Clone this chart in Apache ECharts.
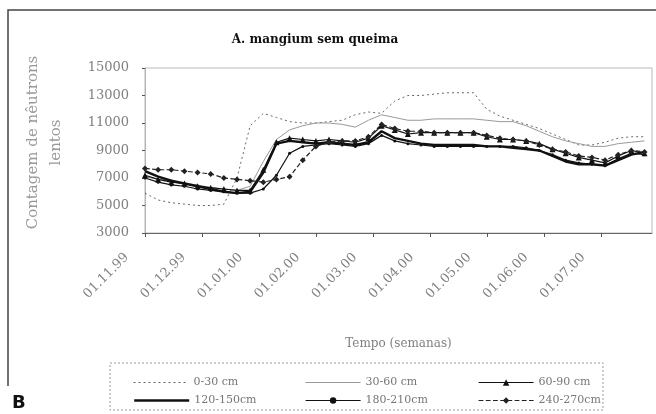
<!DOCTYPE html>
<html>
<head>
<meta charset="utf-8">
<script src="https://cdn.jsdelivr.net/npm/echarts@6/dist/echarts.min.js"></script>
<style>
  html, body { margin: 0; padding: 0; background: #fff; }
  #chart { width: 656px; height: 414px; }
</style>
</head>
<body>
<div id="chart"></div>
<script>
// days since 01.11.99 of each weekly reading
const days = [0, 7, 14, 21, 28, 35, 42, 49, 56, 63, 70, 77, 84, 91, 98, 105, 112, 119, 126, 133,
  140, 147, 154, 161, 168, 175, 182, 189, 196, 203, 210, 217, 224, 231, 238, 245, 252, 259, 266]

const xLabels = ['01.11.99', '01.12.99', '01.01.00', '01.02.00', '01.03.00', '01.04.00', '01.05.00', '01.06.00', '01.07.00']

const depth0_30 = [5900, 5400, 5200, 5100, 5000, 5000, 5100, 7000, 10800, 11700, 11400, 11100, 11000, 11000, 11100, 11200, 11600, 11800, 11700, 12600,
  13000, 13000, 13100, 13200, 13200, 13200, 12000, 11500, 11200, 10900, 10600, 10200, 9800, 9400, 9400, 9600, 9900, 10000, 10000]
const depth30_60 = [7100, 6900, 6800, 6600, 6500, 6300, 6200, 6100, 6400, 8200, 9800, 10500, 10800, 11000, 11000, 10900, 10700, 11200, 11600, 11400,
  11200, 11200, 11300, 11300, 11300, 11300, 11200, 11100, 11100, 10800, 10400, 10000, 9700, 9500, 9300, 9300, 9500, 9600, 9700]
const depth60_90 = [7200, 6900, 6700, 6600, 6400, 6300, 6200, 6100, 6100, 7600, 9600, 9900, 9800, 9700, 9800, 9700, 9600, 9900, 10800, 10500,
  10200, 10300, 10300, 10300, 10300, 10300, 10000, 9800, 9800, 9700, 9500, 9100, 8800, 8500, 8300, 8100, 8600, 9000, 8800]
const depth120_150 = [7500, 7100, 6800, 6600, 6400, 6200, 6000, 5900, 6000, 7400, 9500, 9700, 9600, 9500, 9600, 9500, 9400, 9600, 10400, 9900,
  9700, 9500, 9400, 9400, 9400, 9400, 9300, 9300, 9200, 9100, 9000, 8600, 8200, 8000, 8000, 7900, 8300, 8700, 8900]
const depth180_210 = [7000, 6700, 6500, 6400, 6200, 6100, 6000, 5900, 5900, 6200, 7200, 8800, 9300, 9400, 9500, 9400, 9300, 9500, 10100, 9700,
  9500, 9400, 9300, 9300, 9300, 9300, 9300, 9300, 9300, 9200, 9000, 8700, 8300, 8100, 8000, 7900, 8400, 8800, 8700]
const depth240_270 = [7700, 7600, 7600, 7500, 7400, 7300, 7000, 6900, 6800, 6700, 6900, 7100, 8300, 9300, 9600, 9700, 9700, 10000, 10900, 10600,
  10400, 10400, 10300, 10300, 10300, 10300, 10100, 9900, 9800, 9700, 9400, 9100, 8900, 8600, 8500, 8300, 8700, 9000, 8900]

const seriesNames = ['0-30 cm', '30-60 cm', '60-90 cm', '120-150cm', '180-210cm', '240-270cm']
const seriesValues = [depth0_30, depth30_60, depth60_90, depth120_150, depth180_210, depth240_270]

const monthStep = 30.4
const serif = 'DejaVu Serif'
const grey = '#808080'

const styles = [
  { color: '#666', width: 1, type: [2, 3], symbol: 'none', size: 0 },
  { color: '#999', width: 1, type: 'solid', symbol: 'none', size: 0 },
  { color: '#111', width: 1.2, type: 'solid', symbol: 'triangle', size: 6 },
  { color: '#111', width: 2.4, type: 'solid', symbol: 'none', size: 0 },
  { color: '#111', width: 1.2, type: 'solid', symbol: 'circle', size: 3 },
  { color: '#222', width: 1.2, type: 'dashed', symbol: 'diamond', size: 6 }
]

const legendCols = [128, 300, 473]
const legendRows = [372, 390]

const chart = echarts.init(document.getElementById('chart'))

chart.setOption({
  animation: false,
  title: {
    text: 'A. mangium sem queima',
    left: 310,
    top: 29,
    textAlign: 'center',
    textStyle: { fontFamily: serif, fontSize: 12, fontWeight: 'bold', color: '#111' }
  },
  grid: {
    left: 145,
    right: 4,
    top: 68,
    bottom: 181,
    show: true,
    borderColor: '#bbb',
    borderWidth: 1
  },
  xAxis: {
    type: 'value',
    min: 0,
    max: 270,
    interval: monthStep,
    name: 'Tempo (semanas)',
    nameLocation: 'middle',
    nameGap: 105,
    nameTextStyle: { fontFamily: serif, fontSize: 12, color: grey },
    axisLine: { lineStyle: { color: '#666' } },
    axisTick: { length: 4, lineStyle: { color: '#555' } },
    splitLine: { show: false },
    axisLabel: {
      rotate: 45,
      margin: 4,
      padding: [0, 26, 0, 0],
      fontFamily: serif,
      fontSize: 13,
      color: grey,
      showMaxLabel: false,
      formatter: v => xLabels[Math.round(v / monthStep)] || ''
    }
  },
  yAxis: {
    type: 'value',
    min: 3000,
    max: 15000,
    interval: 2000,
    name: 'Contagem de nêutrons\nlentos',
    nameLocation: 'middle',
    nameRotate: 90,
    nameGap: 77,
    nameTextStyle: { fontFamily: serif, fontSize: 15, lineHeight: 23, color: '#999', padding: [0, 0, 0, 16] },
    axisLine: { show: true, lineStyle: { color: '#aaa', type: 'dotted' } },
    axisTick: { show: true, length: 3, lineStyle: { color: '#555' } },
    splitLine: { show: false },
    axisLabel: { margin: 16, fontFamily: serif, fontSize: 13, color: grey, formatter: v => String(v) }
  },
  legend: seriesNames.map((name, i) => ({
    data: [name],
    left: legendCols[i % 3],
    top: legendRows[Math.floor(i / 3)],
    itemWidth: 55,
    itemHeight: 8,
    itemGap: 4,
    itemStyle: styles[i].symbol === 'none' ? { opacity: 0 } : {},
    lineStyle: { width: styles[i].width, type: styles[i].type, color: styles[i].color },
    textStyle: { fontFamily: serif, fontSize: 11, color: '#777' }
  })),
  series: seriesNames.map((name, i) => ({
    name,
    type: 'line',
    data: days.map((d, k) => [d, seriesValues[i][k]]),
    symbol: styles[i].symbol,
    symbolSize: styles[i].size,
    showSymbol: styles[i].symbol !== 'none',
    itemStyle: { color: styles[i].color },
    lineStyle: { color: styles[i].color, width: styles[i].width, type: styles[i].type }
  })),
  graphic: [
    {
      type: 'polyline',
      shape: { points: [[8, 386], [8, 10], [656, 10]] },
      style: { stroke: '#444', lineWidth: 1.5, fill: null }
    },
    {
      type: 'rect',
      shape: { x: 110, y: 363, width: 493, height: 47 },
      style: { stroke: '#999', lineWidth: 1, lineDash: [2, 2], fill: null }
    },
    {
      type: 'text',
      left: 12,
      top: 394,
      style: { text: 'B', font: 'bold 18px "DejaVu Sans"', fill: '#111' }
    }
  ]
})
</script>
</body>
</html>
